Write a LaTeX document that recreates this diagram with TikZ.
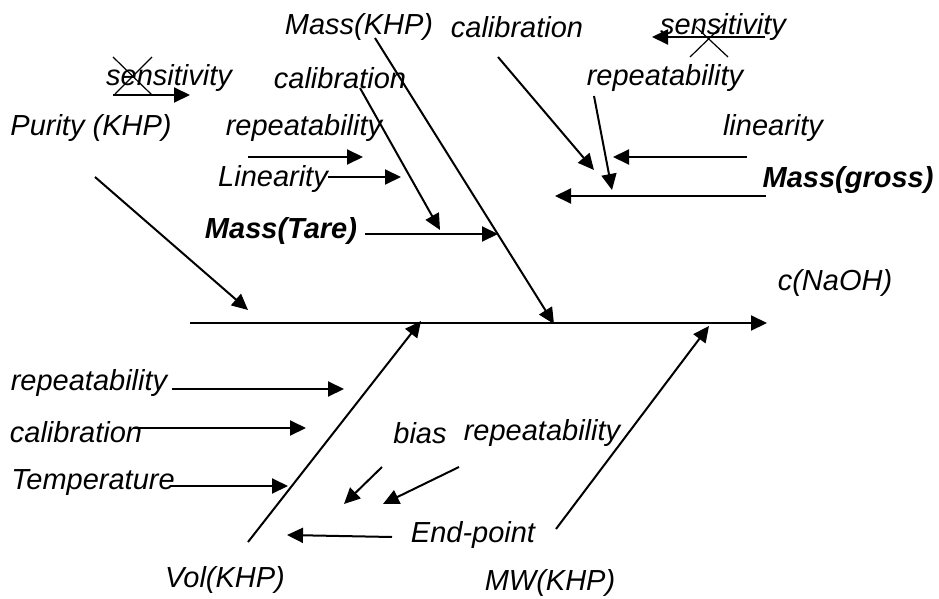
\documentclass[tikz,border=0pt]{standalone}
\usepackage{fontspec}
\setmainfont{Liberation Sans}
\usetikzlibrary{arrows.meta}
\begin{document}
\begin{tikzpicture}[x=1pt,y=-1pt,
  lbl/.style={inner sep=0pt,font=\fontsize{29}{34}\selectfont\itshape},
  blbl/.style={inner sep=0pt,font=\fontsize{29}{34}\selectfont\bfseries\itshape},
  arr/.style={line width=2pt,-{Triangle[length=16pt,width=15pt]}},
  xline/.style={line width=1.2pt}]
\useasboundingbox (0,0) rectangle (939,599);
% texts
\node[lbl] (massKHP) at (359,27) {Mass(KHP)};
\node[lbl] (calTR) at (517,27) {calibration};
\node[lbl] (sensR) at (723,27) {sensitivity};
\node[lbl] (sensL) at (169,78) {sensitivity};
\node[lbl] (calTL) at (340,78) {calibration};
\node[lbl] (repTR) at (665,78) {repeatability};
\node[lbl] (purity) at (91,128) {Purity (KHP)};
\node[lbl] (repTL) at (304,128) {repeatability};
\node[lbl] (linR) at (773,128) {linearity};
\node[lbl] (linL) at (273,179) {Linearity};
\node[blbl] (gross) at (848,180) {Mass(gross)};
\node[blbl] (tare) at (281,231) {Mass(Tare)};
\node[lbl] (naoh) at (835,283) {c(NaOH)};
\node[lbl] (repBL) at (89,383) {repeatability};
\node[lbl] (calBL) at (76,432) {calibration};
\node[lbl] (temp) at (93,483) {Temperature};
\node[lbl] (bias) at (420,433) {bias};
\node[lbl] (repB) at (542,433) {repeatability};
\node[lbl] (endp) at (473,535) {End-point};
\node[lbl] (vol) at (225,580) {Vol(KHP)};
\node[lbl] (mw) at (550,583) {MW(KHP)};
% coordinates
\coordinate (spS) at (190,323);
\coordinate (spE) at (767,323);
\coordinate (purS) at (95,177);
\coordinate (purE) at (248,310);
\coordinate (mkS) at (375,38);
\coordinate (mkE) at (554,324);
\coordinate (taS) at (365,234);
\coordinate (taE) at (498,234);
\coordinate (clS) at (360,88);
\coordinate (clE) at (440,230);
\coordinate (slS) at (113,95);
\coordinate (slE) at (190,95);
\coordinate (rlS) at (248,157);
\coordinate (rlE) at (363,157);
\coordinate (llS) at (328,177);
\coordinate (llE) at (401,177);
\coordinate (crS) at (498,57);
\coordinate (crE) at (594,170);
\coordinate (srS) at (765,37);
\coordinate (srE) at (652,37);
\coordinate (rrS) at (594,96);
\coordinate (rrE) at (612,190);
\coordinate (lrS) at (747,157);
\coordinate (lrE) at (613,157);
\coordinate (grS) at (766,196);
\coordinate (grE) at (555,196);
\coordinate (rbS) at (172,389);
\coordinate (rbE) at (344,389);
\coordinate (cbS) at (133,428);
\coordinate (cbE) at (306,428);
\coordinate (tbS) at (170,486);
\coordinate (tbE) at (288,486);
\coordinate (vS) at (248,542);
\coordinate (vE) at (421,321);
\coordinate (bS) at (382,467);
\coordinate (bE) at (344,504);
\coordinate (r2S) at (459,467);
\coordinate (r2E) at (383,504);
\coordinate (eS) at (392,537);
\coordinate (eE) at (287,535);
\coordinate (mwS) at (556,529);
\coordinate (mwE) at (709,326);
% lines
\draw[arr] (spS) -- (spE);
\draw[arr] (purS) -- (purE);
\draw[arr] (mkS) -- (mkE);
\draw[arr] (taS) -- (taE);
\draw[arr] (clS) -- (clE);
\draw[arr] (slS) -- (slE);
\draw[arr] (rlS) -- (rlE);
\draw[arr] (llS) -- (llE);
\draw[arr] (crS) -- (crE);
\draw[arr] (srS) -- (srE);
\draw[arr] (rrS) -- (rrE);
\draw[arr] (lrS) -- (lrE);
\draw[arr] (grS) -- (grE);
\draw[arr] (rbS) -- (rbE);
\draw[arr] (cbS) -- (cbE);
\draw[arr] (tbS) -- (tbE);
\draw[arr] (vS) -- (vE);
\draw[arr] (bS) -- (bE);
\draw[arr] (r2S) -- (r2E);
\draw[arr] (eS) -- (eE);
\draw[arr] (mwS) -- (mwE);
% crosses
\coordinate (xl1) at (113,57); \coordinate (xl2) at (152,95);
\coordinate (xl3) at (152,57); \coordinate (xl4) at (115,94);
\draw[xline] (xl1) -- (xl2);
\draw[xline] (xl3) -- (xl4);
\coordinate (xr1) at (690,57); \coordinate (xr2) at (724,24);
\coordinate (xr3) at (696,27); \coordinate (xr4) at (728,57);
\draw[xline] (xr1) -- (xr2);
\draw[xline] (xr3) -- (xr4);
\end{tikzpicture}
\end{document}
